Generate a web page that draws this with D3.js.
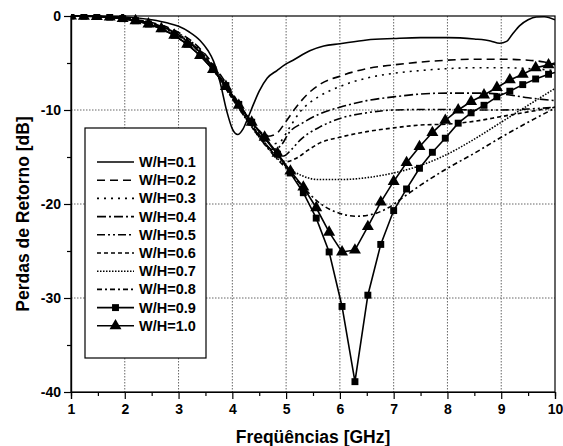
<!DOCTYPE html>
<html>
<head>
<meta charset="utf-8">
<script src="https://cdn.jsdelivr.net/npm/d3@7"></script>
<style>
  body { margin: 0; background: #fff; }
  text { font-family: "Liberation Sans", Arial, sans-serif; font-weight: bold; fill: #000; }
</style>
</head>
<body>
<svg id="chart" width="563" height="446"></svg>
<script>
// ---- data (frequency in GHz, return loss in dB) ----
const labels = ["W/H=0.1", "W/H=0.2", "W/H=0.3", "W/H=0.4", "W/H=0.5",
                "W/H=0.6", "W/H=0.7", "W/H=0.8", "W/H=0.9", "W/H=1.0"];

const freq01 = [1, 1.5, 2, 2.5, 2.8, 3.0, 3.2, 3.4, 3.55, 3.65, 3.77, 3.9, 4.0, 4.1, 4.2, 4.3, 4.4, 4.5, 4.65, 4.83, 5.0, 5.13, 5.44, 5.7, 6.0, 6.5, 7.0, 7.5, 8.0, 8.5, 8.8, 8.97, 9.1, 9.2, 9.35, 9.5, 9.65, 9.8, 10];
const loss01 = [0, -0.02, -0.1, -0.4, -0.75, -1.1, -1.7, -2.6, -3.7, -4.8, -7.0, -10.2, -12.0, -12.6, -12.0, -10.7, -9.3, -8.0, -6.6, -5.8, -5.1, -4.7, -3.7, -3.2, -2.95, -2.55, -2.4, -2.3, -2.3, -2.45, -2.65, -2.9, -2.7, -2.0, -1.0, -0.4, -0.1, -0.08, -0.4];

const freq02 = [1, 1.5, 2, 2.5, 2.75, 3, 3.25, 3.5, 3.75, 4, 4.25, 4.5, 4.65, 4.8, 5.0, 5.2, 5.4, 5.65, 6.0, 6.5, 7.0, 7.5, 8.0, 8.5, 9.0, 9.5, 9.8, 10];
const loss02 = [0, -0.05, -0.22, -0.7, -1.1, -1.75, -2.7, -4.1, -6.0, -8.2, -10.4, -12.2, -12.8, -12.6, -11.2, -9.6, -8.3, -7.2, -6.4, -5.6, -5.2, -4.9, -4.7, -4.6, -4.6, -4.7, -4.9, -5.2];

const freq03 = [1, 1.5, 2, 2.5, 2.75, 3, 3.25, 3.5, 3.75, 4, 4.25, 4.5, 4.75, 4.9, 5.05, 5.26, 5.6, 6.0, 6.5, 7.0, 7.5, 8.0, 8.5, 9.0, 9.5, 10];
const loss03 = [0, -0.05, -0.25, -0.75, -1.2, -1.85, -2.8, -4.2, -6.1, -8.3, -10.5, -12.4, -13.6, -13.3, -12.0, -10.2, -8.6, -7.5, -6.6, -6.1, -5.8, -5.6, -5.5, -5.5, -5.6, -5.8];

const freq04 = [1, 1.5, 2, 2.5, 2.75, 3, 3.25, 3.5, 3.75, 4, 4.25, 4.5, 4.75, 4.9, 5.07, 5.3, 5.63, 6.0, 6.5, 7.0, 7.5, 8.0, 8.5, 9.0, 9.5, 10];
const loss04 = [0, -0.05, -0.25, -0.8, -1.25, -1.95, -2.95, -4.35, -6.3, -8.5, -10.7, -12.6, -14.2, -13.8, -12.3, -11.4, -10.4, -9.7, -9.0, -8.6, -8.3, -8.2, -8.2, -8.3, -8.7, -9.0];

const freq05 = [1, 1.5, 2, 2.5, 2.75, 3, 3.25, 3.5, 3.75, 4, 4.25, 4.5, 4.75, 4.95, 5.1, 5.26, 5.63, 6.0, 6.5, 7.0, 7.5, 8.0, 8.5, 9.0, 9.5, 10];
const loss05 = [0, -0.06, -0.28, -0.8, -1.25, -2.0, -3.0, -4.4, -6.4, -8.6, -10.8, -12.7, -14.4, -14.9, -14.2, -13.2, -11.8, -10.9, -10.3, -10.0, -9.95, -9.95, -10.0, -10.0, -9.9, -9.7];

const freq06 = [1, 1.5, 2, 2.5, 2.75, 3, 3.25, 3.5, 3.75, 4, 4.25, 4.5, 4.75, 5.0, 5.2, 5.4, 5.63, 6.0, 6.5, 7.0, 7.5, 8.0, 8.5, 9.0, 9.5, 10];
const loss06 = [0, -0.06, -0.3, -0.85, -1.3, -2.05, -3.05, -4.5, -6.5, -8.7, -10.8, -12.8, -14.5, -15.5, -15.1, -14.3, -13.5, -12.9, -12.3, -11.9, -11.6, -11.5, -11.2, -10.7, -10.2, -9.7];

const freq07 = [1, 1.5, 2, 2.5, 2.75, 3, 3.25, 3.5, 3.75, 4, 4.25, 4.5, 4.75, 5.0, 5.3, 5.6, 6.0, 6.5, 7.0, 7.5, 8.0, 8.5, 9.0, 9.5, 10];
const loss07 = [0, -0.06, -0.3, -0.85, -1.3, -2.1, -3.1, -4.5, -6.5, -8.8, -10.9, -12.9, -14.6, -16.0, -17.0, -17.4, -17.4, -17.2, -16.7, -15.9, -14.7, -13.1, -11.3, -9.5, -7.7];

const freq08 = [1, 1.5, 2, 2.5, 2.75, 3, 3.25, 3.5, 3.75, 4, 4.25, 4.5, 4.75, 5.0, 5.3, 5.6, 6.0, 6.3, 6.6, 6.9, 7.2, 7.5, 8.0, 8.5, 9.0, 9.5, 10];
const loss08 = [0, -0.07, -0.32, -0.9, -1.35, -2.1, -3.1, -4.6, -6.6, -8.8, -10.9, -12.9, -14.7, -16.2, -18.1, -19.8, -21.0, -21.3, -21.1, -20.4, -19.2, -18.0, -16.2, -14.6, -12.9, -11.3, -9.8];

// the two curves drawn with symbols share one frequency grid
const freqMarked = [1.00, 1.24, 1.48, 1.72, 1.96, 2.20, 2.44, 2.68, 2.92, 3.16, 3.40, 3.64, 3.88, 4.12, 4.36, 4.60, 4.84, 5.08, 5.32, 5.56, 5.80, 6.04, 6.28, 6.52, 6.76, 7.00, 7.24, 7.48, 7.72, 7.96, 8.20, 8.44, 8.68, 8.92, 9.16, 9.40, 9.64, 9.88, 10];
const loss09 = [0, -0.02, -0.05, -0.12, -0.28, -0.5, -0.85, -1.35, -2.05, -3.0, -4.2, -5.7, -7.4, -9.4, -11.3, -13.0, -14.7, -16.7, -18.8, -21.5, -25.1, -30.9, -38.9, -29.7, -24.3, -20.7, -18.4, -16.2, -14.5, -13.0, -11.4, -10.3, -9.5, -8.6, -8.0, -7.3, -6.7, -6.2, -6.0];
const loss10 = [0, -0.02, -0.05, -0.12, -0.28, -0.5, -0.85, -1.35, -2.05, -3.0, -4.2, -5.7, -7.5, -9.5, -11.3, -12.9, -14.6, -16.5, -18.2, -20.4, -23.0, -25.1, -24.9, -22.4, -19.8, -17.6, -15.6, -13.9, -12.4, -11.1, -10.0, -9.1, -8.4, -7.6, -6.8, -6.2, -5.5, -5.2, -5.0];

const xTicks = [1, 2, 3, 4, 5, 6, 7, 8, 9, 10];
const xMinor = [1.5, 2.5, 3.5, 4.5, 5.5, 6.5, 7.5, 8.5, 9.5];
const yTicks = [0, -10, -20, -30, -40];
const yMinor = [-5, -15, -25, -35];

const series = [
  [freq01, loss01], [freq02, loss02], [freq03, loss03], [freq04, loss04], [freq05, loss05],
  [freq06, loss06], [freq07, loss07], [freq08, loss08], [freqMarked, loss09], [freqMarked, loss10]
].map((p, i) => ({ label: labels[i], pts: p[0].map((f, j) => ({ f: f, v: p[1][j] })) }));

// ---- styles ----
const dashes = ["", "8,5", "2,5", "9,3,2,3", "8,3,2,3,2,3", "4,3", "1.5,1.5", "5,3,2,3", "", ""];
const symbols = [null, null, null, null, null, null, null, null, "square", "triangle"];

const svg = d3.select("#chart");
const pLeft = 71, pRight = 555, pTop = 16, pBottom = 392;
const x = d3.scaleLinear().domain([1, 10]).range([pLeft, pRight]);
const y = d3.scaleLinear().domain([-40, 0]).range([pBottom, pTop]);

// grid
svg.append("g").selectAll("line").data(xTicks.slice(1, -1)).join("line")
  .attr("x1", d => x(d)).attr("x2", d => x(d)).attr("y1", pTop).attr("y2", pBottom)
  .attr("stroke", "#666").attr("stroke-width", 1).attr("stroke-dasharray", "1.5,1.5");
svg.append("g").selectAll("line").data(yTicks.slice(1, -1)).join("line")
  .attr("y1", d => y(d)).attr("y2", d => y(d)).attr("x1", pLeft).attr("x2", pRight)
  .attr("stroke", "#666").attr("stroke-width", 1).attr("stroke-dasharray", "1.5,1.5");

// curves
svg.append("clipPath").attr("id", "clip").append("rect")
  .attr("x", pLeft).attr("y", pTop - 2).attr("width", pRight - pLeft).attr("height", pBottom - pTop + 4);

const plot = svg.append("g").attr("clip-path", "url(#clip)");
const smooth = d3.line().x(d => x(d.f)).y(d => y(d.v)).curve(d3.curveMonotoneX);
const straight = d3.line().x(d => x(d.f)).y(d => y(d.v));

series.forEach((s, i) => {
  plot.append("path").datum(s.pts)
    .attr("fill", "none").attr("stroke", "#000").attr("stroke-width", 1.6)
    .attr("stroke-dasharray", dashes[i] || null)
    .attr("d", symbols[i] ? straight : smooth);
});

const sqr = d3.symbol().type(d3.symbolSquare).size(48);
const tri = d3.symbol().type(d3.symbolTriangle).size(62);
series.forEach((s, i) => {
  if (!symbols[i]) return;
  plot.append("g").selectAll("path").data(s.pts.filter(d => d.f < 10)).join("path")
    .attr("transform", d => `translate(${x(d.f)},${y(d.v)})`)
    .attr("d", symbols[i] === "square" ? sqr : tri)
    .attr("fill", "#000");
});

// frame
svg.append("rect").attr("x", pLeft).attr("y", pTop).attr("width", pRight - pLeft).attr("height", pBottom - pTop)
  .attr("fill", "none").attr("stroke", "#000").attr("stroke-width", 1.2);

// axes
svg.append("g").attr("transform", `translate(0,${pBottom})`)
  .call(d3.axisBottom(x).tickValues(xTicks).tickSize(7).tickPadding(5).tickFormat(d => String(d)));
svg.append("g").attr("transform", `translate(0,${pBottom})`)
  .call(d3.axisBottom(x).tickValues(xMinor).tickSize(4).tickFormat(""));
svg.append("g").attr("transform", `translate(${pLeft},0)`)
  .call(d3.axisLeft(y).tickValues(yTicks).tickSize(7).tickPadding(3).tickFormat(d => String(d)));
svg.append("g").attr("transform", `translate(${pLeft},0)`)
  .call(d3.axisLeft(y).tickValues(yMinor).tickSize(4).tickFormat(""));

svg.selectAll(".domain").attr("stroke-width", 1.2);
svg.selectAll(".tick line").attr("stroke-width", 1.2);
svg.selectAll(".tick text").style("font-size", "14px").style("font-weight", "bold")
  .style("font-family", "'Liberation Sans', Arial, sans-serif");

// axis titles
svg.append("text").attr("x", (pLeft + pRight) / 2).attr("y", 443).attr("text-anchor", "middle")
  .style("font-size", "17.5px").text("Freqüências [GHz]");
svg.append("text").attr("transform", `translate(29,${(pTop + pBottom) / 2 + 10}) rotate(-90)`)
  .attr("text-anchor", "middle").style("font-size", "17.5px").text("Perdas de Retorno [dB]");

// legend
const lg = svg.append("g");
lg.append("rect").attr("x", 85).attr("y", 128).attr("width", 121).attr("height", 230)
  .attr("fill", "#fff").attr("stroke", "#000").attr("stroke-width", 1.2);
labels.forEach((lab, i) => {
  const ly = 162 + i * 18.2;
  lg.append("line").attr("x1", 97).attr("x2", 134).attr("y1", ly).attr("y2", ly)
    .attr("stroke", "#000").attr("stroke-width", 1.6).attr("stroke-dasharray", dashes[i] || null);
  if (symbols[i]) {
    lg.append("path").attr("transform", `translate(115.5,${ly})`)
      .attr("d", symbols[i] === "square" ? sqr : tri).attr("fill", "#000");
  }
  lg.append("text").attr("x", 139).attr("y", ly).attr("dy", "0.35em")
    .style("font-size", "14.5px").text(lab);
});
</script>
</body>
</html>
